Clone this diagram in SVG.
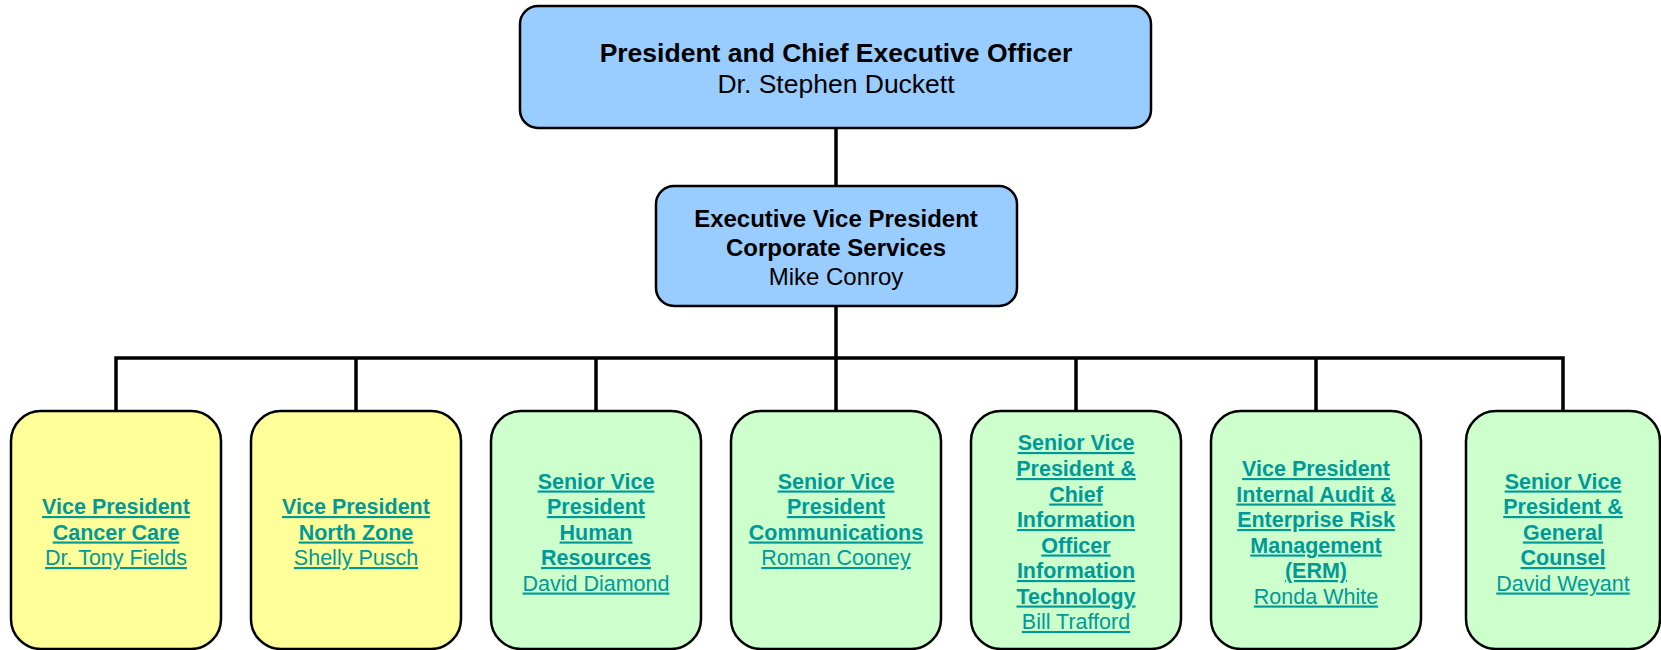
<svg xmlns="http://www.w3.org/2000/svg" width="1661" height="650" viewBox="0 0 1661 650">
<style>
.box{stroke:#000;stroke-width:2.5}
.exec{fill:#99CCFF}
.yel{fill:#FFFF99}
.grn{fill:#CCFFCC}
.conn{stroke:#000;stroke-width:3.5;fill:none;stroke-linecap:square}
text{font-family:"Liberation Sans",Arial,sans-serif;text-anchor:middle}
.t1{font-size:26.5px;fill:#000}
.t2{font-size:24px;fill:#000}
.lk{font-size:21.5px;fill:#009999;text-decoration:underline;text-decoration-thickness:2px}
.b{font-weight:bold}
</style>
<rect width="1661" height="650" fill="#fff"/>
<g id="connectors">
<path class="conn" d="M836 128V186M836 306V358M116 358H1563M116 358V411M356 358V411M596 358V411M836 358V411M1076 358V411M1316 358V411M1563 358V411"/>
</g>
<g id="ceo">
<rect class="box exec" x="520" y="6" width="631" height="122" rx="18"/>
<text class="t1 b" x="836" y="62">President and Chief Executive Officer</text>
<text class="t1" x="836" y="93">Dr. Stephen Duckett</text>
</g>
<g id="evp">
<rect class="box exec" x="656" y="186" width="361" height="120" rx="18"/>
<text class="t2 b" x="836" y="227">Executive Vice President</text>
<text class="t2 b" x="836" y="256">Corporate Services</text>
<text class="t2" x="836" y="285">Mike Conroy</text>
</g>
<g id="vp-cancer">
<rect class="box yel" x="11" y="411" width="210" height="238" rx="30"/>
<text class="lk b" x="116" y="514">Vice President</text>
<text class="lk b" x="116" y="539.5">Cancer Care</text>
<text class="lk" x="116" y="565">Dr. Tony Fields</text>
</g>
<g id="vp-north">
<rect class="box yel" x="251" y="411" width="210" height="238" rx="30"/>
<text class="lk b" x="356" y="514">Vice President</text>
<text class="lk b" x="356" y="539.5">North Zone</text>
<text class="lk" x="356" y="565">Shelly Pusch</text>
</g>
<g id="svp-hr">
<rect class="box grn" x="491" y="411" width="210" height="238" rx="30"/>
<text class="lk b" x="596" y="488.5">Senior Vice</text>
<text class="lk b" x="596" y="514">President</text>
<text class="lk b" x="596" y="539.5">Human</text>
<text class="lk b" x="596" y="565">Resources</text>
<text class="lk" x="596" y="590.5">David Diamond</text>
</g>
<g id="svp-comm">
<rect class="box grn" x="731" y="411" width="210" height="238" rx="30"/>
<text class="lk b" x="836" y="488.5">Senior Vice</text>
<text class="lk b" x="836" y="514">President</text>
<text class="lk b" x="836" y="539.5">Communications</text>
<text class="lk" x="836" y="565">Roman Cooney</text>
</g>
<g id="svp-cio">
<rect class="box grn" x="971" y="411" width="210" height="238" rx="30"/>
<text class="lk b" x="1076" y="450">Senior Vice</text>
<text class="lk b" x="1076" y="476">President &amp;</text>
<text class="lk b" x="1076" y="501.5">Chief</text>
<text class="lk b" x="1076" y="527">Information</text>
<text class="lk b" x="1076" y="552.5">Officer</text>
<text class="lk b" x="1076" y="578">Information</text>
<text class="lk b" x="1076" y="603.5">Technology</text>
<text class="lk" x="1076" y="629">Bill Trafford</text>
</g>
<g id="vp-audit">
<rect class="box grn" x="1211" y="411" width="210" height="238" rx="30"/>
<text class="lk b" x="1316" y="476">Vice President</text>
<text class="lk b" x="1316" y="501.5">Internal Audit &amp;</text>
<text class="lk b" x="1316" y="527">Enterprise Risk</text>
<text class="lk b" x="1316" y="552.5">Management</text>
<text class="lk b" x="1316" y="578">(ERM)</text>
<text class="lk" x="1316" y="603.5">Ronda White</text>
</g>
<g id="svp-counsel">
<rect class="box grn" x="1466" y="411" width="194" height="238" rx="30"/>
<text class="lk b" x="1563" y="488.5">Senior Vice</text>
<text class="lk b" x="1563" y="514">President &amp;</text>
<text class="lk b" x="1563" y="539.5">General</text>
<text class="lk b" x="1563" y="565">Counsel</text>
<text class="lk" x="1563" y="590.5">David Weyant</text>
</g>
</svg>
